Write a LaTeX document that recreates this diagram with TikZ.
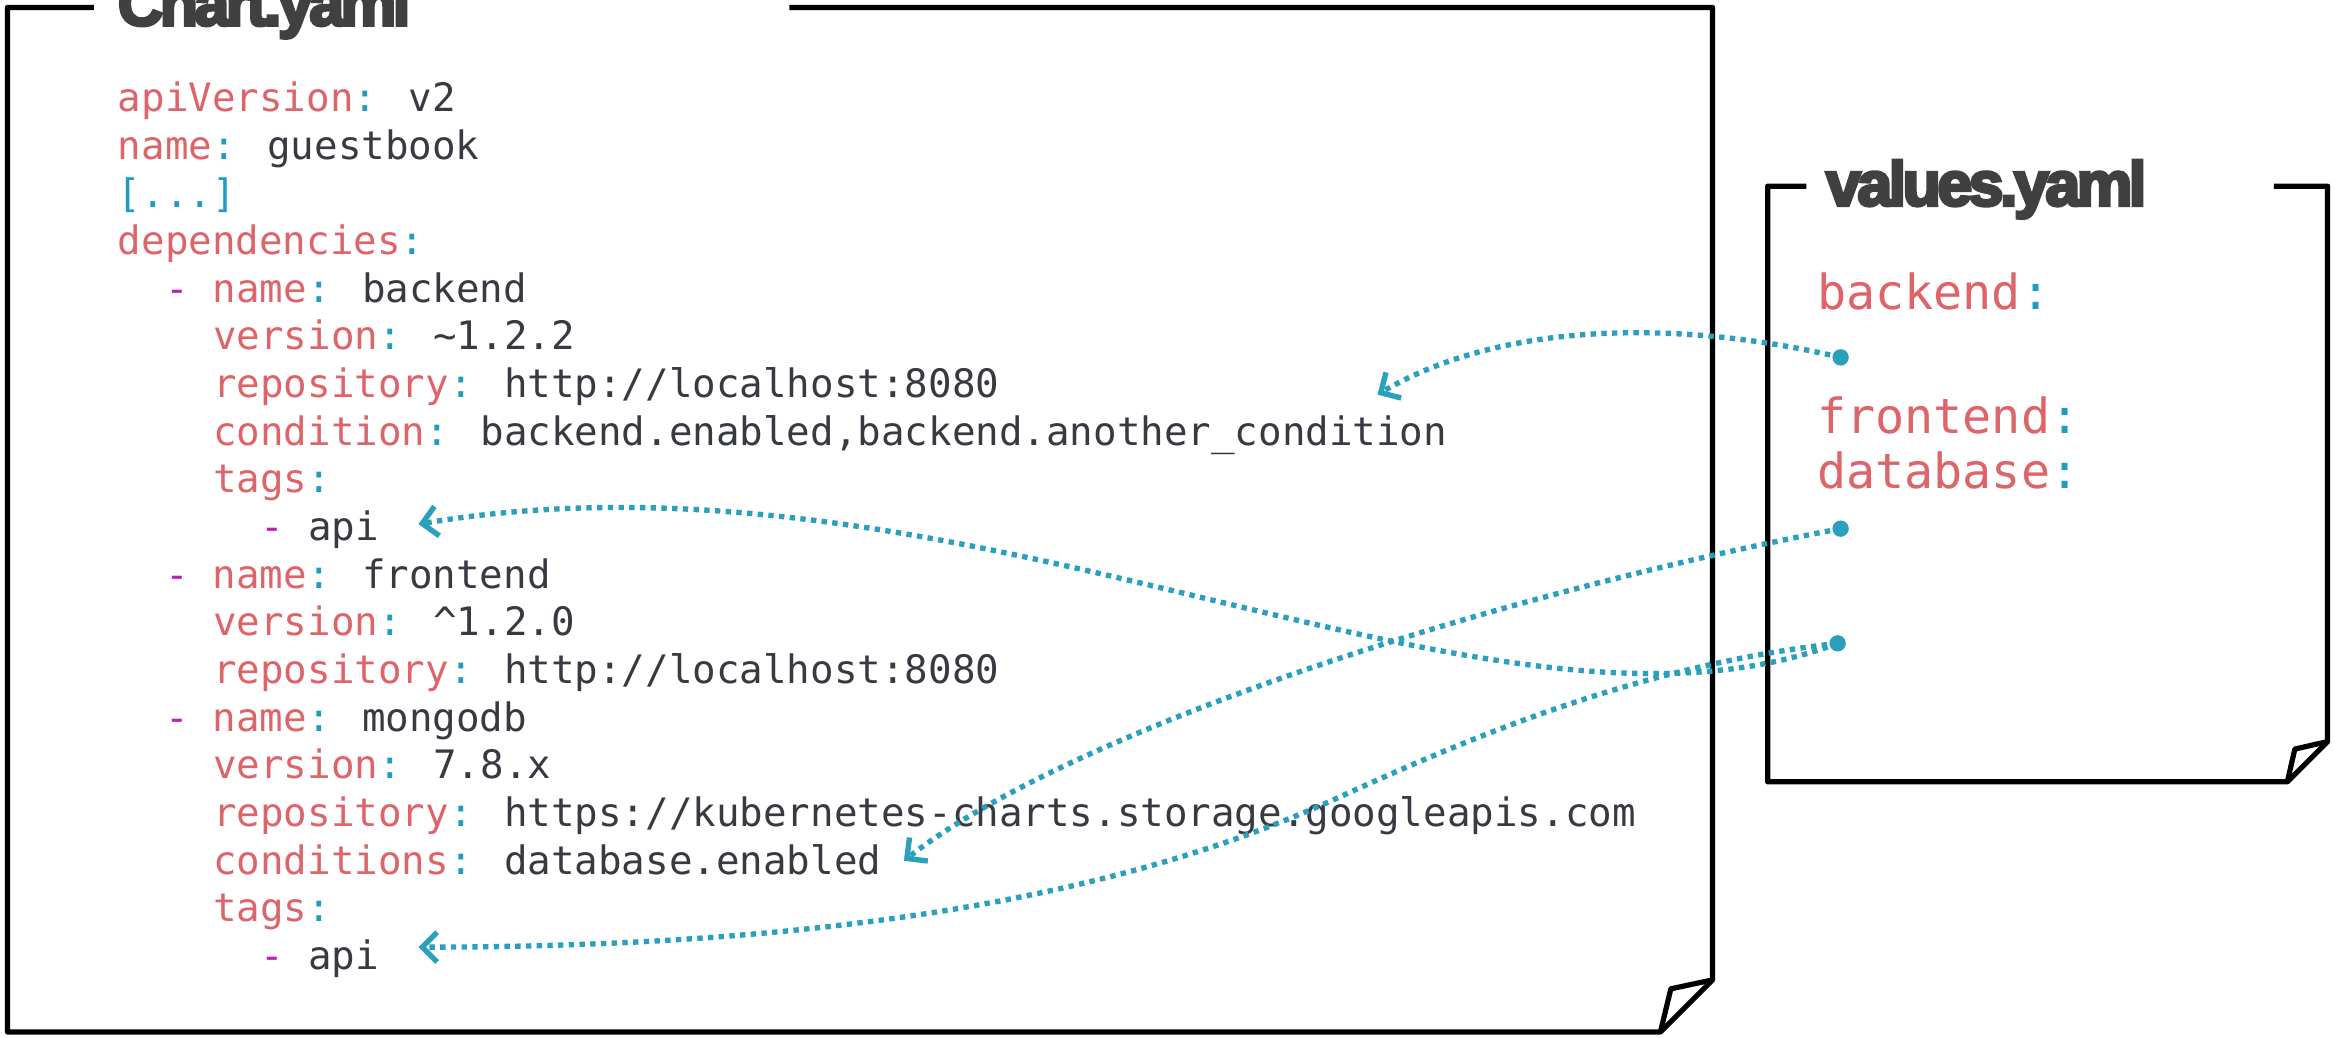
\documentclass[tikz,border=0pt]{standalone}
\usepackage{fontspec}
\usetikzlibrary{arrows.meta}
\newfontfamily\codefont{DejaVu Sans Mono}
\newfontfamily\titlefont{Liberation Sans}[LetterSpace=-5.5,FakeBold=5]
\definecolor{keyred}{RGB}{221,100,105}
\definecolor{colblue}{RGB}{31,155,196}
\definecolor{valgray}{RGB}{56,58,66}
\definecolor{dashpurple}{RGB}{190,30,190}
\definecolor{linkteal}{RGB}{42,160,188}
\definecolor{titlegray}{RGB}{64,64,64}
\newcommand{\yk}[1]{\textcolor{keyred}{#1}\textcolor{colblue}{:}}
\newcommand{\yd}{\textcolor{dashpurple}{-}\ }
\tikzset{
  code/.style={anchor=base west,inner sep=0pt,text=valgray,font=\codefont\fontsize{26.3}{32}\selectfont},
  valcode/.style={code,font=\codefont\fontsize{32.5}{36}\selectfont},
  filetitle/.style={anchor=base west,inner sep=0pt,text=titlegray,font=\titlefont\bfseries\fontsize{42}{46}\selectfont},
  filebox/.style={line width=3.5pt,line join=round},
  link/.style={linkteal,line width=3.6pt,dash pattern=on 3.6pt off 3.6pt,-{Straight Barb[length=10pt,width=20pt]}},
}
\begin{document}
\begin{tikzpicture}[x=1pt,y=1pt]
  \useasboundingbox (0,0) rectangle (1568,-697);
  % Chart.yaml
  \draw[filebox] (63,-5)--(5,-5)--(5,-693)--(1115,-693)--(1150,-658)--(1150,-5)--(530,-5);
  \draw[filebox] (1150,-658)--(1122,-664)--(1115,-693);
  \node[filetitle] (charttitle) at (79,-17) {Chart.yaml};
  \node[code] (l1) at (79,-75) {\yk{apiVersion} v2};
  \node[code] (l2) at (79,-107) {\yk{name} guestbook};
  \node[code,text=colblue] (l3) at (79,-139) {[...]};
  \node[code] (l4) at (79,-171) {\yk{dependencies}};
  \node[code] (l5) at (111,-203) {\yd\yk{name} backend};
  \node[code] (l6) at (143,-235) {\yk{version} \textasciitilde1.2.2};
  \node[code] (l7) at (143,-267) {\yk{repository} http://localhost:8080};
  \node[code] (l8) at (143,-299) {\yk{condition} backend.enabled,backend.another\_condition};
  \node[code] (l9) at (143,-331) {\yk{tags}};
  \node[code] (l10) at (175,-363) {\yd api};
  \node[code] (l11) at (111,-395) {\yd\yk{name} frontend};
  \node[code] (l12) at (143,-427) {\yk{version} \textasciicircum1.2.0};
  \node[code] (l13) at (143,-459) {\yk{repository} http://localhost:8080};
  \node[code] (l14) at (111,-491) {\yd\yk{name} mongodb};
  \node[code] (l15) at (143,-523) {\yk{version} 7.8.x};
  \node[code] (l16) at (143,-555) {\yk{repository} https://kubernetes-charts.storage.googleapis.com};
  \node[code] (l17) at (143,-587) {\yk{conditions} database.enabled};
  \node[code] (l18) at (143,-619) {\yk{tags}};
  \node[code] (l19) at (175,-651) {\yd api};
  % values.yaml
  \draw[filebox] (1213,-125)--(1187,-125)--(1187,-525)--(1536,-525)--(1563,-498)--(1563,-125)--(1527,-125);
  \draw[filebox] (1563,-498)--(1541,-503)--(1536,-525);
  \node[filetitle] (valtitle) at (1226,-138) {values.yaml};
  \node[valcode] (vback) at (1220,-208) {\yk{backend}};
  \node[valcode] (vfront) at (1220,-291) {\yk{frontend}};
  \node[valcode] (vdb) at (1220,-328) {\yk{database}};
  % links
  \coordinate (dotback) at (1236,-240);
  \coordinate (dotfront) at (1236,-355);
  \coordinate (dotdb) at (1234,-432);
  \coordinate (tipcond) at (925,-265);
  \coordinate (tipdb) at (607,-578);
  \coordinate (tipapi) at (281,-352);
  \coordinate (tipapii) at (281,-636);
  \draw[link] (dotback) .. controls (1130,-215) and (1010,-215) .. (tipcond);
  \draw[link] (dotfront) .. controls (1000,-400) and (720,-490) .. (tipdb);
  \draw[link] (dotdb) .. controls (1000,-520) and (650,-290) .. (tipapi);
  \draw[link] (dotdb) .. controls (1120,-445) and (1020,-480) .. (900,-535) .. controls (780,-590) and (600,-636) .. (tipapii);
  \fill[linkteal] (dotback) circle (5.5);
  \fill[linkteal] (dotfront) circle (5.5);
  \fill[linkteal] (dotdb) circle (5.5);
\end{tikzpicture}
\end{document}
